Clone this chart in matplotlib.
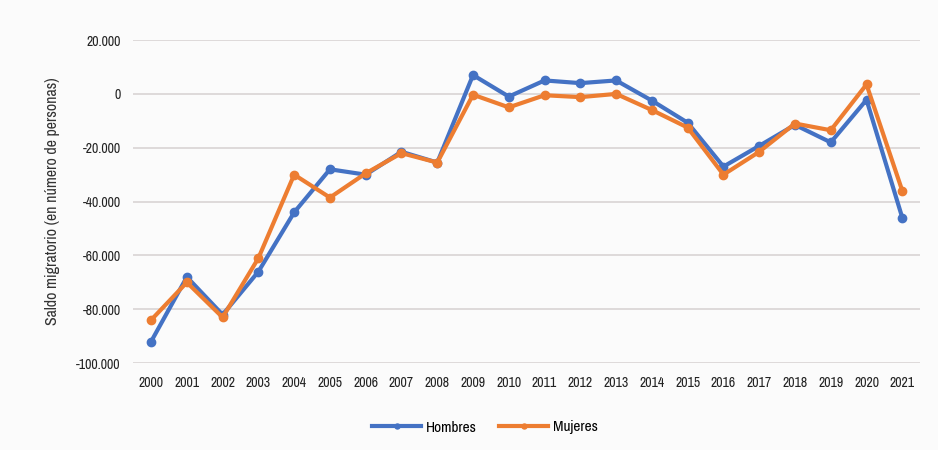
import numpy as np
import matplotlib.pyplot as plt
from matplotlib import font_manager as fm
from matplotlib.ticker import FuncFormatter

years = list(range(2000, 2022))
hombres = [-92000, -68000, -82000, -66000, -44000, -28000, -30000, -21500, -25500, 7000, -1000,
           5000, 4000, 5000, -2500, -10700, -27000, -19300, -11500, -18000, -2200, -46000]
mujeres = [-84000, -70000, -83000, -61000, -30000, -38500, -29500, -22000, -25500, -300, -5000,
           -500, -1200, 0, -6000, -12500, -30000, -21500, -11000, -13500, 3500, -36000]

names = sorted({f.name for f in fm.fontManager.ttflist})
narrow = [n for n in names if 'Narrow' in n or 'Condensed' in n]
fam = narrow[0] if narrow else 'DejaVu Sans'
plt.rcParams['font.family'] = [fam, 'DejaVu Sans']
plt.rcParams['font.stretch'] = 'condensed'
plt.rcParams['font.weight'] = 'bold'

fig = plt.figure(figsize=(9.38, 4.5), dpi=100)
fig.patch.set_facecolor('#fbfbfb')
ax = fig.add_axes([0.142, 0.193, 0.839, 0.718])
ax.set_facecolor('#fbfbfb')

x = np.arange(len(years))
ax.plot(x, hombres, color='#4472c4', lw=3, marker='o', ms=6, label='Hombres', zorder=3)
ax.plot(x, mujeres, color='#ed7d31', lw=3, marker='o', ms=6, label='Mujeres', zorder=4)

ax.set_ylim(-100000, 20000)
ax.set_yticks(np.arange(-100000, 20001, 20000))
ax.yaxis.set_major_formatter(FuncFormatter(lambda v, p: f'{int(v):,}'.replace(',', '.')))
ax.set_xlim(-0.5, len(years) - 0.5)
ax.set_xticks(x)
ax.set_xticklabels([str(y) for y in years])
ax.grid(axis='y', color='#d9d4d4', lw=1.2)
ax.set_axisbelow(True)
for s in ax.spines.values():
    s.set_visible(False)
ax.tick_params(length=0, labelsize=10, colors='#222222', pad=9)
ax.set_ylabel('Saldo migratorio (en número de personas)', fontsize=11.5, color='#333333',
              fontweight='normal', labelpad=12)

fig.legend(loc='center', bbox_to_anchor=(0.517, 0.05), ncol=2, frameon=False,
           prop={'size': 11, 'weight': 'normal'}, handlelength=3.2, columnspacing=1.5,
           handletextpad=0.3, markerscale=0.6)

fig.savefig('out.png', dpi=100, facecolor=fig.get_facecolor())
